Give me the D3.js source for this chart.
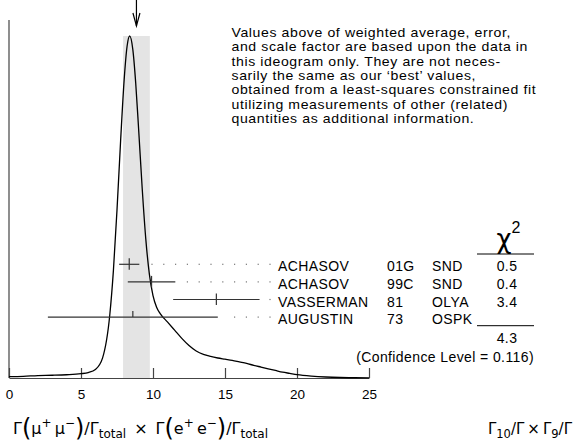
<!DOCTYPE html>
<html><head><meta charset="utf-8">
<script src="https://cdn.jsdelivr.net/npm/d3@7"></script>
<style>html,body{margin:0;padding:0;background:#fff;}svg{display:block;}</style>
</head><body>
<svg id="chart" width="574" height="441"></svg>
<script>
// ---- data ----
const authors = ["ACHASOV", "ACHASOV", "VASSERMAN", "AUGUSTIN"];
const years = ["01G", "99C", "81", "73"];
const experiments = ["SND", "SND", "OLYA", "OSPK"];
const values = [8.35, 9.9, 14.4, 8.6];
const errors = [0.7, 1.65, 3.0, 5.9];
const chi2 = ["0.5", "0.4", "3.4", ""];
const chi2Total = "4.3";
const confidenceLevel = "0.116";
const weightedAverage = 8.85;
const averageError = 0.93;
const xTicks = [0, 5, 10, 15, 20, 25];
// ideogram curve (relative height, peak = 1)
const curveX = [0, 1, 2, 3, 4, 5, 5.5, 6, 6.5, 7, 7.25, 7.5, 7.75, 8, 8.2, 8.38, 8.6, 8.8, 9, 9.25, 9.5, 9.75, 10, 10.25, 10.5, 11, 11.5, 12, 12.5, 13, 13.5, 14, 14.5, 15, 15.5, 16, 16.5, 17, 17.5, 18, 18.5, 19, 19.5, 20, 21, 22, 23, 24, 25];
const curveY = [0.004, 0.005, 0.007, 0.008, 0.0095, 0.0126, 0.016, 0.025, 0.059, 0.185, 0.314, 0.491, 0.693, 0.874, 0.970, 1.0, 0.960, 0.862, 0.729, 0.554, 0.406, 0.303, 0.241, 0.207, 0.188, 0.164, 0.140, 0.116, 0.095, 0.079, 0.069, 0.063, 0.0585, 0.055, 0.0515, 0.047, 0.0425, 0.037, 0.032, 0.027, 0.022, 0.017, 0.0135, 0.010, 0.0056, 0.0029, 0.0014, 0.0007, 0.0003];
const paragraph = [
  "Values above of weighted average, error,",
  "and scale factor are based upon the data in",
  "this ideogram only.  They are not neces-",
  "sarily the same as our \u2018best\u2019 values,",
  "obtained from a least-squares constrained fit",
  "utilizing measurements of other (related)",
  "quantities as additional information."
];

// ---- drawing ----
const svg = d3.select("#chart");
const sans = "'Liberation Sans', Arial, Helvetica, sans-serif";
const x = d3.scaleLinear().domain([0, 25]).range([9, 369]);
const y = d3.scaleLinear().domain([0, 1]).range([378, 36]);
const axisY = 378;

function txt(xx, yy, s, opts) {
  opts = opts || {};
  return svg.append("text").attr("x", xx).attr("y", yy)
    .attr("font-family", sans).attr("font-size", opts.size || 14)
    .attr("letter-spacing", opts.ls != null ? opts.ls : 0.4)
    .attr("text-anchor", opts.anchor || "start")
    .attr("fill", "#000").text(s);
}

// shaded band
svg.append("rect")
  .attr("x", x(weightedAverage - averageError))
  .attr("y", y(1))
  .attr("width", x(weightedAverage + averageError) - x(weightedAverage - averageError))
  .attr("height", axisY - y(1))
  .attr("fill", "#e4e4e4");

// axis
const axisG = svg.append("g").attr("transform", `translate(0,${axisY})`);
const axis = d3.axisBottom(x).tickValues(xTicks).tickSizeInner(-10).tickSizeOuter(0).tickPadding(16);
axisG.call(axis);
axisG.select(".domain").attr("stroke", "#444").attr("stroke-width", 1.2);
axisG.selectAll(".tick line").attr("stroke", "#444").attr("stroke-width", 1.2);
axisG.selectAll(".tick text").attr("font-family", sans).attr("font-size", 13.5).attr("fill", "#000").attr("dy", "0.4em");
// left frame line
svg.append("line").attr("x1", x(0)).attr("x2", x(0)).attr("y1", 20).attr("y2", axisY)
  .attr("stroke", "#444").attr("stroke-width", 1.2);

// ideogram curve
const pts = curveX.map((v, i) => [v, curveY[i]]);
svg.append("path").datum(pts)
  .attr("d", d3.line().x(d => x(d[0])).y(d => y(d[1])).curve(d3.curveMonotoneX))
  .attr("fill", "none").attr("stroke", "#000").attr("stroke-width", 1.3);

// arrow at weighted average
const ax = x(weightedAverage);
svg.append("line").attr("x1", ax).attr("x2", ax).attr("y1", 0).attr("y2", 26).attr("stroke", "#000").attr("stroke-width", 1.2);
svg.append("path").attr("d", `M${ax - 3.5},13 L${ax},26 L${ax + 3.5},13`).attr("fill", "none").attr("stroke", "#000").attr("stroke-width", 1.2);

// measurements
const rowY = i => 264.3 + i * 17.6;
const labelX = 278, dotEnd = 270, dotStep = 11.8;
values.forEach((v, i) => {
  const yy = rowY(i);
  const lo = x(v - errors[i]), hi = x(v + errors[i]);
  svg.append("line").attr("x1", lo).attr("x2", hi).attr("y1", yy).attr("y2", yy).attr("stroke", "#333").attr("stroke-width", 1.2);
  const up = 6, down = i === 3 ? 0 : 5.5;
  svg.append("line").attr("x1", x(v)).attr("x2", x(v)).attr("y1", yy - up).attr("y2", yy + down).attr("stroke", "#333").attr("stroke-width", 1.2);
  // dotted leader
  for (let dx = dotEnd; dx > hi + 6; dx -= dotStep) {
    svg.append("rect").attr("x", dx - 0.6).attr("y", yy - 0.6).attr("width", 1.2).attr("height", 1.2).attr("fill", "#777");
  }
  const ty = yy + 7;
  txt(labelX, ty, authors[i]);
  txt(387, ty, years[i]);
  txt(432, ty, experiments[i]);
  txt(507, ty, chi2[i], {anchor: "middle"});
});

// chi2 header
svg.append("text").attr("x", 504).attr("y", 248).attr("text-anchor", "middle").attr("font-family", "'DejaVu Sans', sans-serif").attr("font-size", 26).text("\u03c7");
txt(516, 233, "2", {size: 16, anchor: "middle", ls: 0});
svg.append("line").attr("x1", 477).attr("x2", 534).attr("y1", 254).attr("y2", 254).attr("stroke", "#000").attr("stroke-width", 1);
svg.append("line").attr("x1", 477).attr("x2", 534).attr("y1", 325.7).attr("y2", 325.7).attr("stroke", "#000").attr("stroke-width", 1);
txt(507, 343, chi2Total, {anchor: "middle"});
txt(534, 361.5, `(Confidence Level = ${confidenceLevel})`, {anchor: "end"});

// paragraph (slightly stretched horizontally to match the reference's wide lettering)
const para = svg.append("g").attr("transform", "translate(231.5,0) scale(1.1,1)");
paragraph.forEach((line, i) => {
  para.append("text").attr("x", 0).attr("y", 37 + i * 14.33)
    .attr("font-family", sans).attr("font-size", 12.8).attr("letter-spacing", 0.55)
    .attr("fill", "#000").text(line);
});

// formulas
const dv = "'DejaVu Sans', sans-serif";
function formula(parts, xx, yy, anchor, base) {
  const t = svg.append("text").attr("x", xx).attr("y", yy).attr("font-family", dv).attr("font-size", base).attr("text-anchor", anchor || "start");
  parts.forEach(p => {
    const s = t.append("tspan").text(p[0]).attr("font-size", p[1] || base);
    if (p[2]) s.attr("dy", p[2]);
  });
}
formula([
  ["\u0393"], ["(", 24, 2], ["\u03bc", 16, -2], ["+", 12, -7], ["\u2009\u03bc", 16, 7], ["\u2212", 12, -7], [")", 24, 9], ["/\u0393", 16, -2], ["total", 12, 3.5],
  ["\u2002\u00d7\u2002\u0393", 16, -3.5], ["(", 24, 2], ["e", 16, -2], ["+", 12, -7], ["\u2009e", 16, 7], ["\u2212", 12, -7], [")", 24, 9], ["/\u0393", 16, -2], ["total", 12, 3.5]
], 13, 434, "start", 16);
formula([
  ["\u0393"], ["10", 11.5, 3.5], ["/\u0393\u2009\u00d7\u2009\u0393", 15, -3.5], ["9", 11.5, 3.5], ["/\u0393", 15, -3.5]
], 572, 434, "end", 15);
</script>
</body></html>
